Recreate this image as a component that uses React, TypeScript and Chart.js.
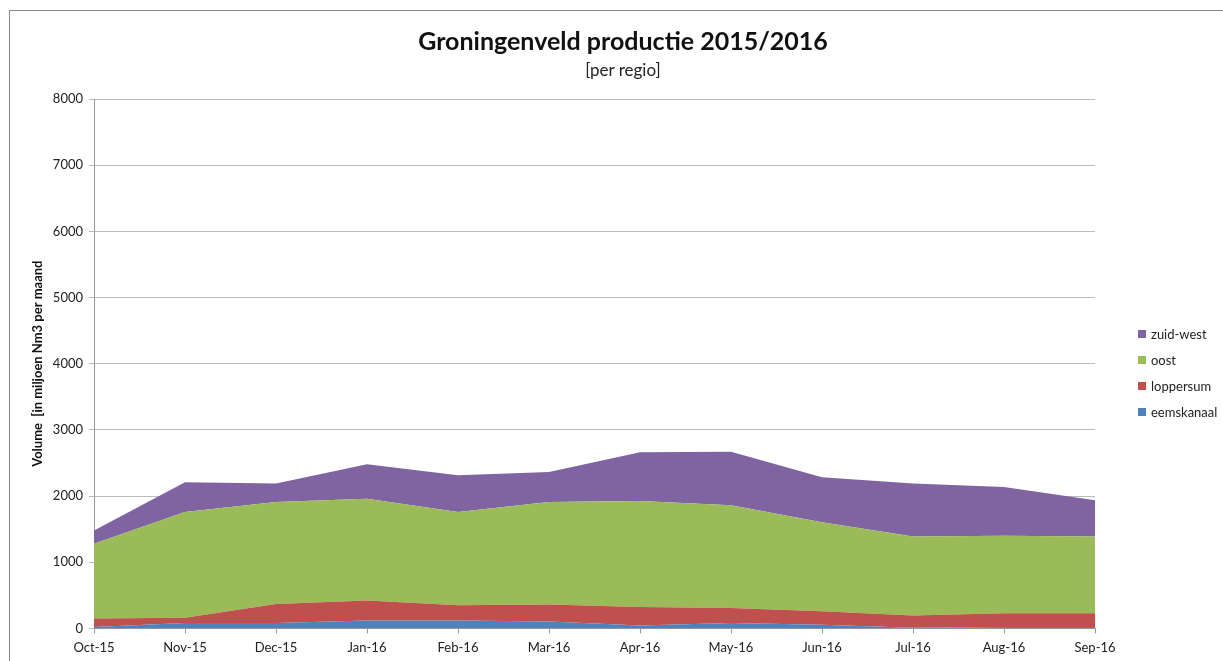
import React, { useEffect, useRef } from "react";
import { Chart, registerables } from "chart.js";

Chart.register(...registerables);

const months = ["Oct-15", "Nov-15", "Dec-15", "Jan-16", "Feb-16", "Mar-16", "Apr-16", "May-16", "Jun-16", "Jul-16", "Aug-16", "Sep-16"];
const eemskanaal = [20, 80, 80, 120, 120, 105, 45, 80, 55, 10, 20, 20];
const loppersum = [130, 80, 290, 300, 230, 255, 280, 230, 205, 185, 210, 210];
const oost = [1130, 1600, 1540, 1540, 1410, 1550, 1600, 1550, 1345, 1195, 1170, 1160];
const zuidWest = [200, 450, 280, 520, 555, 455, 735, 810, 680, 800, 735, 545];

const seriesNames = ["eemskanaal", "loppersum", "oost", "zuid-west"];
const seriesColors = ["#4F81BD", "#C0504D", "#9BBB59", "#8064A2"];

const titleText = "Groningenveld productie 2015/2016";
const subtitleText = "[per regio]";

const FONT = "Lato, 'Open Sans', sans-serif";

export default function App() {
  const ref = useRef<HTMLCanvasElement>(null);
  useEffect(() => {
    if (!ref.current) return;
    const values = [eemskanaal, loppersum, oost, zuidWest];
    const chart = new Chart(ref.current, {
      type: "line",
      data: {
        labels: months,
        datasets: values.map((data, i) => ({
          label: seriesNames[i],
          data,
          backgroundColor: seriesColors[i],
          borderColor: seriesColors[i],
          borderWidth: 0,
          pointRadius: 0,
          fill: i === 0 ? "origin" : "-1",
          tension: 0,
        })),
      },
      options: {
        animation: false,
        responsive: false,
        maintainAspectRatio: false,
        layout: { padding: { left: 10, right: 128, top: 99, bottom: -2 } },
        plugins: {
          title: { display: false },
          subtitle: { display: false },
          legend: { display: false },
          tooltip: { enabled: false },
        },
        scales: {
          x: {
            offset: false,
            grid: { display: true, drawOnChartArea: false, drawTicks: true, tickLength: 5, color: "#999" },
            border: { display: true, color: "#999" },
            ticks: { color: "#222", font: { family: FONT, size: 13 }, padding: 7, maxRotation: 0, autoSkip: false },
          },
          y: {
            stacked: true,
            min: 0,
            max: 8000,
            afterFit: (s: any) => { s.width = 84; },
            grid: { color: "#bbb", tickLength: 5, drawTicks: true },
            border: { display: true, color: "#999" },
            ticks: {
              stepSize: 1000,
              color: "#222",
              font: { family: FONT, size: 13 },
              padding: 6,
              callback: (v: any) => String(v),
            },
            title: {
              display: true,
              text: "Volume  [in miljoen Nm3 per maand",
              color: "#111",
              font: { family: FONT, size: 13, weight: "bold" },
              padding: { top: 20, bottom: 0 },
            },
          },
        },
      },
    });
    return () => chart.destroy();
  }, []);
  const legendOrder = [3, 2, 1, 0];
  return (
    <div style={{ position: "absolute", left: 0, top: 0, width: 1223, height: 661, overflow: "hidden", background: "#fff" }}>
      <div style={{ position: "absolute", left: 9, top: 10, width: 1300, height: 700, borderLeft: "1.5px solid #888", borderTop: "1.5px solid #888" }} />
      <canvas ref={ref} width={1223} height={661} style={{ position: "absolute", left: 0, top: 0 }} />
      <div style={{ position: "absolute", left: 323, width: 600, top: 24, height: 32, lineHeight: "32px", textAlign: "center", fontFamily: FONT, fontWeight: "bold", fontSize: 25, color: "#111" }}>
        {titleText}
      </div>
      <div style={{ position: "absolute", left: 323, width: 600, top: 59, height: 22, lineHeight: "22px", textAlign: "center", fontFamily: FONT, fontSize: 17, color: "#222" }}>
        {subtitleText}
      </div>
      {legendOrder.map((idx, k) => (
        <div
          key={seriesNames[idx]}
          style={{
            position: "absolute",
            left: 1138,
            top: 334 + k * 26 - 9,
            height: 18,
            display: "flex",
            alignItems: "center",
            fontFamily: FONT,
            fontSize: 13,
            color: "#222",
            whiteSpace: "nowrap",
          }}
        >
          <span style={{ display: "inline-block", width: 8, height: 8, background: seriesColors[idx], marginRight: 5 }} />
          {seriesNames[idx]}
        </div>
      ))}
    </div>
  );
}
